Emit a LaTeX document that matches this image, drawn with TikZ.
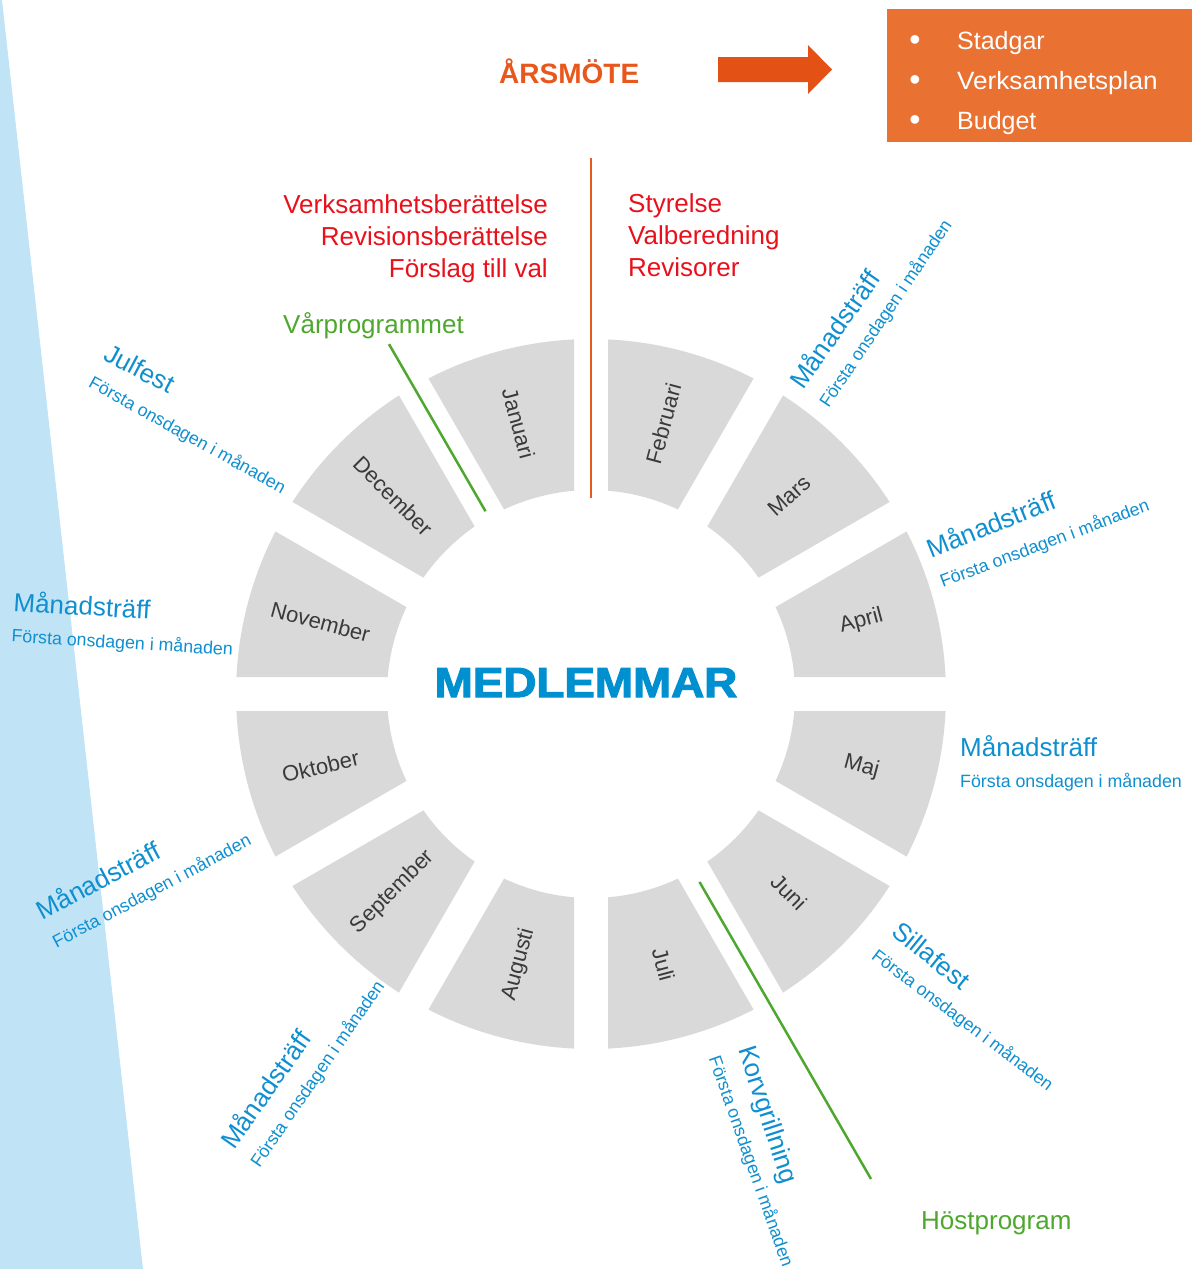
\documentclass[tikz,border=0pt]{standalone}
\usepackage{fontspec}
\usepackage{graphicx}
\setmainfont{Liberation Sans}
\newfontfamily\medfont{Liberation Sans}[BoldFeatures={FakeBold=2.6}]
\usetikzlibrary{calc}
\definecolor{bandBlue}{HTML}{C0E4F5}
\definecolor{segGray}{HTML}{D9D9D9}
\definecolor{monthText}{HTML}{3A3A3A}
\definecolor{evBlue}{HTML}{0F8FCF}
\definecolor{medBlue}{HTML}{0090CF}
\definecolor{redText}{HTML}{E8101A}
\definecolor{arsOrange}{HTML}{E8581C}
\definecolor{arrowOrange}{HTML}{E35214}
\definecolor{boxOrange}{HTML}{E97132}
\definecolor{lineOrange}{HTML}{E45B1E}
\definecolor{progGreen}{HTML}{4EA72E}
\newcommand\fs[1]{\fontsize{#1}{#1}\selectfont}
\tikzset{
  seg/.style={fill=segGray},
  month/.style={font=\fs{22}, text=monthText, inner sep=0pt},
  evtitle/.style={font=\fs{26}, text=evBlue, inner sep=0pt, anchor=base west},
  evsub/.style={font=\fs{17.8}, text=evBlue, inner sep=0pt, anchor=base west},
  redleft/.style={font=\fs{26}, text=redText, inner sep=0pt, anchor=base east},
  redright/.style={font=\fs{26}, text=redText, inner sep=0pt, anchor=base west},
  progtext/.style={font=\fs{26}, text=progGreen, inner sep=0pt, anchor=base west},
  greenline/.style={draw=progGreen, line width=2.5pt},
  orangeline/.style={draw=lineOrange, line width=2.3pt},
  boxitem/.style={font=\fs{25}, text=white, inner sep=0pt, anchor=base west},
  boxbullet/.style={font=\fs{32}, text=white, inner sep=0pt, anchor=base},
}
% #1 name, #2 x, #3 y (px from top), #4 title angle, #5 sub angle, #6 title
\newcommand\eventlabel[6]{%
  \node[evtitle, rotate=#4] (#1) at (#2,-#3) {#6};
  \node[evsub, rotate=#5] (#1sub) at ($(#1.base west)+(#4-90:31)$) {Första onsdagen i månaden};%
}
\begin{document}
\begin{tikzpicture}[x=1pt,y=1pt]
\useasboundingbox (0,0) rectangle (1192,-1269);
% light blue band
\fill[bandBlue] (0,0) -- (2,0) -- (143,-1269) -- (0,-1269) -- cycle;
% wheel
\coordinate (C) at (591,-694);
\foreach \a/\r/\nm/\lab in {90/-75/jan/Januari, 60/75/feb/Februari, 30/42/mar/Mars, 0/15/apr/April, -30/-15/maj/Maj, -60/-45/jun/Juni, -90/-75/jul/Juli, -120/75/aug/Augusti, -150/45/sep/September, -180/13/okt/Oktober, 150/-15/nov/November, 120/-45/dec/December}{
  \fill[seg] ($(C)+(\a+2.745:355)$) arc[start angle=\a+2.745, end angle=\a+27.255, radius=355]
    -- ($(C)+(\a+25.22:204)$) arc[start angle=\a+25.22, end angle=\a+4.78, radius=204] -- cycle;
  \node[month, rotate=\r] (\nm) at ($(C)+(\a+15:280)$) {\lab};
}
\node[font=\medfont\bfseries\fs{42}, text=medBlue, inner sep=0pt, anchor=base] (med) at (586,-697) {\scalebox{1.09}[1]{MEDLEMMAR}};
% top
\node[font=\bfseries\fs{28}, text=arsOrange, inner sep=0pt, anchor=base west] (ars) at (499,-83) {ÅRSMÖTE};
\coordinate (arA) at (718,-57);
\fill[arrowOrange] (arA) -- (808,-57) -- (808,-45) -- (832,-69.5) -- (808,-94) -- (808,-82) -- (718,-82) -- cycle;
\node[fill=boxOrange, minimum width=305pt, minimum height=133pt, anchor=north west, inner sep=0pt] (box) at (887,-9) {};
\node[boxbullet] (b1) at (915,-50) {•};
\node[boxbullet] (b2) at (915,-90) {•};
\node[boxbullet] (b3) at (915,-130) {•};
\node[boxitem] (i1) at (957,-49) {Stadgar};
\node[boxitem] (i2) at (957,-89) {\scalebox{1.045}[1]{Verksamhetsplan}};
\node[boxitem] (i3) at (957,-129) {Budget};
% red texts
\node[redleft] (l1) at (548,-213) {Verksamhetsberättelse};
\node[redleft] (l2) at (548,-245) {Revisionsberättelse};
\node[redleft] (l3) at (548,-277) {Förslag till val};
\node[redright] (r1) at (628,-212) {Styrelse};
\node[redright] (r2) at (628,-244) {Valberedning};
\node[redright] (r3) at (628,-276) {Revisorer};
% orange divider
\coordinate (oTop) at (591,-158);
\coordinate (oBot) at (591,-498);
\draw[orangeline] (oTop) -- (oBot);
% programmes
\node[progtext] (vp) at (283,-333) {Vårprogrammet};
\coordinate (vpA) at ($(C)+(120:404)$);
\coordinate (vpB) at ($(C)+(120:211)$);
\draw[greenline] (vpA) -- (vpB);
\node[progtext] (hp) at (921,-1229) {Höstprogram};
\coordinate (hpA) at ($(C)+(-60:217)$);
\coordinate (hpB) at ($(C)+(-60:560)$);
\draw[greenline] (hpA) -- (hpB);
% events
\eventlabel{evMar}{803}{391}{55}{56}{Månadsträff}
\eventlabel{evApr}{931}{559}{22}{20.5}{Månadsträff}
\eventlabel{evMaj}{960}{756}{0}{0}{Månadsträff}
\eventlabel{evJun}{890}{934}{-39}{-37}{Sillafest}
\eventlabel{evJul}{738}{1049}{-72}{-70.5}{Korvgrillning}
\eventlabel{evSep}{234}{1151}{55}{55.5}{Månadsträff}
\eventlabel{evOkt}{42}{921}{28}{28}{Månadsträff}
\eventlabel{evNov}{13}{611}{-3.5}{-3.5}{Månadsträff}
\eventlabel{evDec}{102}{359}{-28}{-29}{Julfest}
\end{tikzpicture}
\end{document}
